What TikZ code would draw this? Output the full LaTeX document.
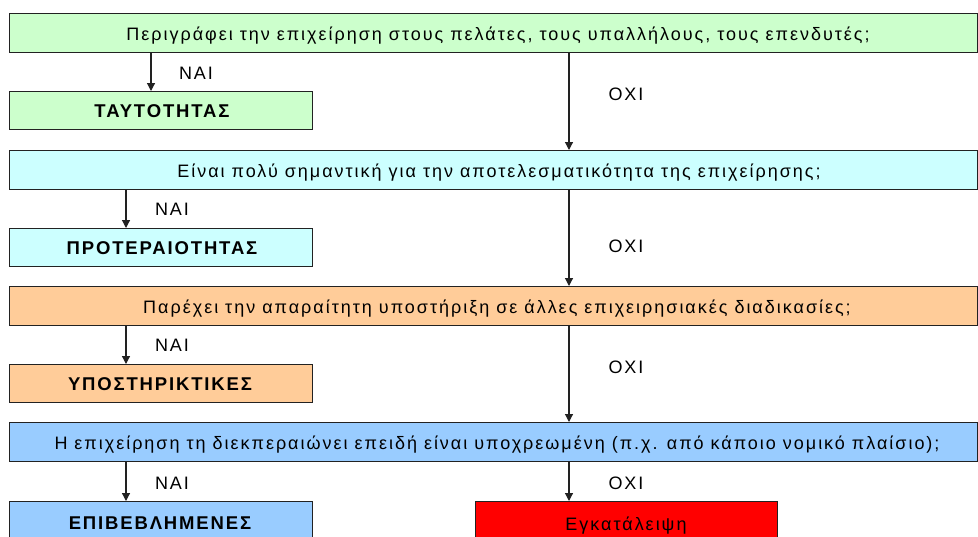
\documentclass[tikz,border=0pt]{standalone}
\usepackage{fontspec}
\setmainfont{Liberation Sans}
\newfontfamily\qfont[LetterSpace=11]{Liberation Sans}
\newfontfamily\bfont[LetterSpace=10]{Liberation Sans Bold}
\usetikzlibrary{arrows.meta}
\definecolor{cgreen}{HTML}{CCFFCC}
\definecolor{ccyan}{HTML}{CCFFFF}
\definecolor{corange}{HTML}{FFCC99}
\definecolor{cblue}{HTML}{99CCFF}
\definecolor{cred}{HTML}{FF0000}
\definecolor{cline}{HTML}{222222}
\begin{document}
\begin{tikzpicture}[x=1pt,y=-1pt,
  box/.style={draw=cline,line width=1.3pt,inner sep=0pt,anchor=north west},
  wide/.style={box,minimum width=968pt,minimum height=39pt},
  small/.style={box,minimum width=303pt,minimum height=38pt},
  arr/.style={-{Triangle[length=8pt,width=8pt]},line width=1.2pt,draw=cline},
  qt/.style={font=\qfont\fontsize{18}{20}\selectfont,inner sep=0pt,anchor=base},
  lab/.style={font=\qfont\fontsize{18}{20}\selectfont,inner sep=0pt,anchor=base},
  anstext/.style={font=\bfont\fontsize{18.5}{20}\selectfont,inner sep=0pt,anchor=base}]
\useasboundingbox (0,0) rectangle (978,536);
\clip (0,0) rectangle (978,536);
\fill[white] (0,0) rectangle (978,536);
% question boxes
\node[wide,fill=cgreen]  (q1) at (9,13)  {};
\node[wide,fill=ccyan]   (q2) at (9,150) {};
\node[wide,fill=corange] (q3) at (9,286) {};
\node[wide,fill=cblue]   (q4) at (9,422) {};
\node[qt] (t1) at (498,40)  {Περιγράφει την επιχείρηση στους πελάτες, τους υπαλλήλους, τους επενδυτές;};
\node[qt] (t2) at (499,177) {Είναι πολύ σημαντική για την αποτελεσματικότητα της επιχείρησης;};
\node[qt] (t3) at (497,313) {Παρέχει την απαραίτητη υποστήριξη σε άλλες επιχειρησιακές διαδικασίες;};
\node[qt] (t4) at (497,449) {Η επιχείρηση τη διεκπεραιώνει επειδή είναι υποχρεωμένη (π.χ. από κάποιο νομικό πλαίσιο);};
% answer boxes
\node[small,fill=cgreen]  (a1) at (9,91)  {};
\node[small,fill=ccyan]   (a2) at (9,228) {};
\node[small,fill=corange] (a3) at (9,364) {};
\node[small,fill=cblue,minimum height=45pt] (a4) at (9,501) {};
\node[box,fill=cred,minimum width=302pt,minimum height=45pt] (r) at (475,501) {};
\node[anstext] (b1) at (162,117) {ΤΑΥΤΟΤΗΤΑΣ};
\node[anstext] (b2) at (162,254) {ΠΡΟΤΕΡΑΙΟΤΗΤΑΣ};
\node[anstext] (b3) at (160,390) {ΥΠΟΣΤΗΡΙΚΤΙΚΕΣ};
\node[anstext] (b4) at (160,529) {ΕΠΙΒΕΒΛΗΜΕΝΕΣ};
\node[lab] (e) at (626,530) {Εγκατάλειψη};
% arrows
\draw[arr] (q1.south -| 151,0) -- (a1.north -| 151,0);
\draw[arr] (q2.south -| 126,0) -- (a2.north -| 126,0);
\draw[arr] (q3.south -| 126,0) -- (a3.north -| 126,0);
\draw[arr] (q4.south -| 126,0) -- (a4.north -| 126,0);
\draw[arr] (q1.south -| 569,0) -- (q2.north -| 569,0);
\draw[arr] (q2.south -| 569,0) -- (q3.north -| 569,0);
\draw[arr] (q3.south -| 569,0) -- (q4.north -| 569,0);
\draw[arr] (q4.south -| 569,0) -- (r.north -| 569,0);
% labels
\node[lab] (n1) at (196,79)  {ΝΑΙ};
\node[lab] (n2) at (172,215) {ΝΑΙ};
\node[lab] (n3) at (172,351) {ΝΑΙ};
\node[lab] (n4) at (172,489) {ΝΑΙ};
\node[lab] (o1) at (626,100) {ΟΧΙ};
\node[lab] (o2) at (626,252) {ΟΧΙ};
\node[lab] (o3) at (626,373) {ΟΧΙ};
\node[lab] (o4) at (626,489) {ΟΧΙ};
\end{tikzpicture}
\end{document}
